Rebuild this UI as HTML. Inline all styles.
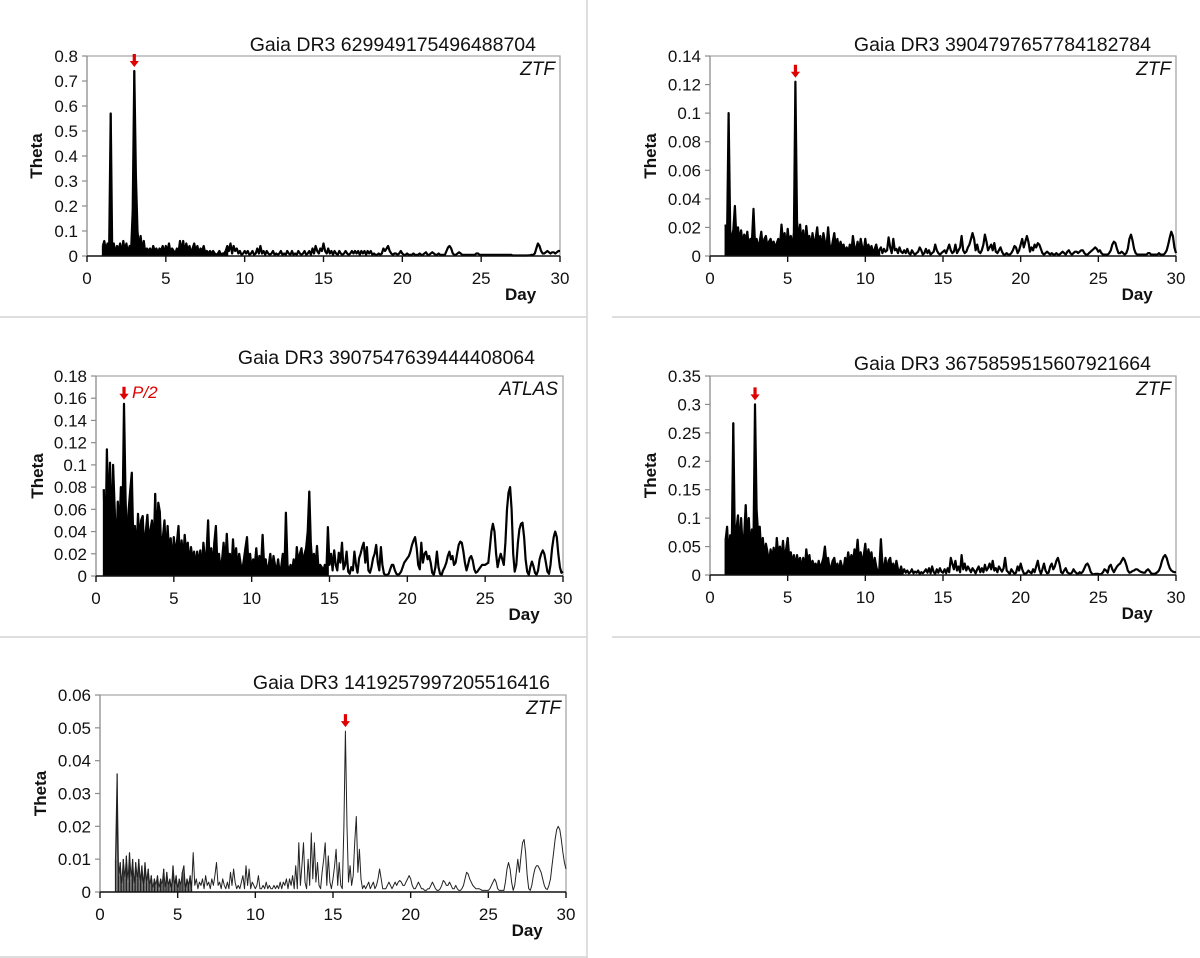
<!DOCTYPE html>
<html><head><meta charset="utf-8">
<style>
html,body{margin:0;padding:0;background:#fff;}
body{width:1200px;height:958px;overflow:hidden;position:relative;}
svg{position:absolute;left:0;top:0;font-family:"Liberation Sans",sans-serif;}
</style></head>
<body>
<svg id="fig" width="1200" height="958" viewBox="0 0 1200 958">
  <g stroke="#d4d4d4" stroke-width="1.5">
    <line x1="587" y1="0" x2="587" y2="958"/>
    <line x1="0" y1="317" x2="587" y2="317"/>
    <line x1="0" y1="637" x2="587" y2="637"/>
    <line x1="0" y1="957" x2="587" y2="957"/>
    <line x1="612" y1="317" x2="1200" y2="317"/>
    <line x1="612" y1="637" x2="1200" y2="637"/>
  </g>
</svg>
<script>
// ---------- data ----------
const xTicks = [0,5,10,15,20,25,30];
const p1Start = 1.0;
const p1Theta = [
0.04,0.06,0.02,0.05,0.01,0.57,0.02,0.05,0.01,0.04,
0.02,0.05,0.01,0.06,0.02,0.05,0.01,0.04,0.02,0.18,
0.74,0.32,0.10,0.03,0.08,0.02,0.06,0.01,0.03,0.02,
0.03,0.01,0.04,0.02,0.03,0.01,0.03,0.02,0.04,0.01,
0.04,0.02,0.05,0.01,0.03,0.02,0.01,0.03,0.01,0.06,
0.02,0.06,0.01,0.05,0.02,0.04,0.01,0.03,0.05,0.02,
0.04,0.01,0.03,0.02,0.04,0.01,0.02,0.01,0.02,0.01,
0.02,0.01,0.005,0.01,0.02,0.005,0.01,0.01,0.02,0.04,
0.02,0.05,0.01,0.04,0.02,0.03,0.01,0.02,0.005,0.01,
0.02,0.01,0.02,0.005,0.01,0.02,0.005,0.01,0.03,0.01,
0.04,0.01,0.02,0.005,0.02,0.01,0.005,0.01,0.02,0.005,
0.01,0.005,0.01,0.02,0.005,0.01,0.005,0.02,0.01,0.005,
0.02,0.005,0.01,0.005,0.02,0.01,0.005,0.01,0.02,0.005,
0.01,0.02,0.005,0.03,0.01,0.04,0.02,0.01,0.03,0.02,
0.05,0.02,0.01,0.03,0.01,0.02,0.005,0.02,0.01,0.005,
0.02,0.01,0.005,0.01,0.02,0.01,0.005,0.01,0.02,0.01,
0.02,0.01,0.02,0.005,0.02,0.01,0.02,0.005,0.02,0.01,
0.02,0.005,0.01,0.005,0.005,0.01,0.005,0.01,0.03,0.02,
0.03,0.04,0.02,0.01,0.005,0.01,0.01,0.005,0.01,0.02,
0.01,0.005,0.005,0.01,0.005,0.005,0.005,0.01,0.005,0.005,
0.005,0.01,0.005,0.005,0.01,0.015,0.005,0.005,0.01,0.015,
0.01,0.005,0.005,0.01,0.005,0.005,0.005,0.005,0.02,0.035,
0.04,0.03,0.01,0.005,0.005,0.01,0.015,0.01,0.005,0.005,
0.005,0.005,0.005,0.005,0.005,0.005,0.005,0.01,0.01,0.005,
0.005,0.005,0.005,0.005,0.005,0.005,0.005,0.005,0.005,0.005,
0.005,0.005,0.005,0.005,0.005,0.005,0.005,0.005,0.005,0.005,
0.002,0.002,0.002,0.002,0.002,0.002,0.002,0.002,0.002,0.002,
0.003,0.003,0.005,0.005,0.01,0.03,0.05,0.04,0.02,0.01,
0.01,0.015,0.02,0.015,0.01,0.015,0.015,0.01,0.015,0.02,
0.02];
const p1YTicks = [0,0.1,0.2,0.3,0.4,0.5,0.6,0.7,0.8];
const p1YLabels = ["0","0.1","0.2","0.3","0.4","0.5","0.6","0.7","0.8"];

const p2Start = 1.0;
const p2Theta = [
0.022,0.015,0.10,0.018,0.01,0.018,0.035,0.012,0.02,0.01,
0.018,0.008,0.015,0.01,0.017,0.006,0.012,0.01,0.033,0.008,
0.012,0.006,0.01,0.017,0.005,0.012,0.014,0.006,0.01,0.012,
0.008,0.01,0.005,0.009,0.012,0.006,0.022,0.01,0.016,0.005,
0.019,0.008,0.014,0.006,0.016,0.122,0.025,0.01,0.022,0.008,
0.018,0.006,0.021,0.01,0.014,0.005,0.016,0.008,0.012,0.02,
0.008,0.014,0.005,0.016,0.01,0.006,0.02,0.008,0.004,0.01,
0.016,0.006,0.012,0.004,0.01,0.006,0.008,0.003,0.006,0.002,
0.008,0.003,0.014,0.006,0.004,0.01,0.003,0.012,0.006,0.004,
0.012,0.003,0.008,0.004,0.007,0.002,0.005,0.008,0.003,0.004,
0.006,0.002,0.005,0.003,0.004,0.013,0.006,0.002,0.012,0.004,
0.005,0.002,0.006,0.003,0.002,0.004,0.002,0.005,0.002,0.001,
0.004,0.002,0.001,0.002,0.003,0.006,0.004,0.001,0.002,0.005,
0.002,0.004,0.001,0.002,0.003,0.008,0.004,0.002,0.001,0.002,
0.003,0.004,0.002,0.005,0.008,0.004,0.002,0.003,0.008,0.002,
0.004,0.006,0.014,0.004,0.002,0.003,0.006,0.008,0.012,0.016,
0.012,0.004,0.008,0.003,0.002,0.004,0.008,0.015,0.01,0.004,
0.006,0.008,0.004,0.009,0.003,0.002,0.004,0.006,0.003,0.001,
0.001,0.002,0.001,0.001,0.002,0.004,0.007,0.006,0.002,0.004,
0.008,0.012,0.006,0.01,0.014,0.01,0.003,0.006,0.004,0.008,
0.006,0.009,0.008,0.005,0.002,0.001,0.002,0.003,0.002,0.001,
0.002,0.001,0.001,0.002,0.001,0.001,0.002,0.003,0.002,0.001,
0.003,0.004,0.002,0.001,0.002,0.003,0.003,0.002,0.003,0.004,
0.004,0.002,0.001,0.001,0.002,0.003,0.004,0.005,0.006,0.005,
0.003,0.004,0.002,0.001,0.001,0.001,0.001,0.002,0.004,0.008,
0.01,0.009,0.005,0.002,0.002,0.003,0.002,0.001,0.002,0.005,
0.012,0.015,0.011,0.005,0.002,0.001,0.001,0.001,0.001,0.001,
0.001,0.001,0.002,0.002,0.001,0.001,0.001,0.001,0.001,0.002,
0.001,0.001,0.001,0.002,0.004,0.008,0.013,0.017,0.014,0.006,
0.002];
const p2YTicks = [0,0.02,0.04,0.06,0.08,0.1,0.12,0.14];
const p2YLabels = ["0","0.02","0.04","0.06","0.08","0.1","0.12","0.14"];

const p3Start = 0.5;
const p3Theta = [
0.078,0.02,0.114,0.05,0.102,0.03,0.1,0.06,0.02,0.067,
0.04,0.08,0.05,0.155,0.068,0.03,0.06,0.077,0.093,0.025,
0.045,0.02,0.056,0.03,0.05,0.054,0.02,0.04,0.055,0.03,
0.042,0.05,0.02,0.074,0.03,0.066,0.058,0.02,0.035,0.05,
0.015,0.045,0.02,0.034,0.01,0.035,0.02,0.03,0.045,0.01,
0.032,0.015,0.037,0.02,0.03,0.01,0.026,0.015,0.022,0.008,
0.022,0.01,0.023,0.005,0.03,0.015,0.02,0.05,0.01,0.025,
0.008,0.03,0.045,0.01,0.02,0.005,0.015,0.03,0.01,0.038,
0.012,0.02,0.005,0.033,0.01,0.025,0.006,0.02,0.01,0.005,
0.015,0.025,0.035,0.008,0.02,0.005,0.015,0.01,0.025,0.005,
0.018,0.008,0.037,0.01,0.015,0.003,0.01,0.02,0.005,0.018,
0.01,0.004,0.015,0.003,0.008,0.02,0.004,0.057,0.01,0.004,
0.01,0.005,0.015,0.003,0.026,0.01,0.02,0.025,0.01,0.02,
0.025,0.04,0.076,0.03,0.01,0.02,0.008,0.027,0.005,0.01,
0.008,0.004,0.01,0.005,0.044,0.01,0.02,0.005,0.023,0.01,
0.005,0.021,0.012,0.03,0.006,0.01,0.022,0.004,0.002,0.008,
0.005,0.022,0.01,0.003,0.016,0.02,0.026,0.03,0.012,0.026,
0.005,0.003,0.008,0.016,0.02,0.028,0.012,0.005,0.026,0.01,
0.002,0.001,0.001,0.002,0.006,0.01,0.01,0.005,0.002,0.001,
0.002,0.004,0.008,0.012,0.014,0.016,0.018,0.022,0.028,0.032,
0.035,0.025,0.01,0.006,0.03,0.012,0.02,0.022,0.015,0.018,
0.012,0.003,0.001,0.008,0.022,0.008,0.002,0.001,0.005,0.008,
0.012,0.018,0.022,0.015,0.018,0.01,0.012,0.02,0.028,0.031,
0.03,0.022,0.012,0.005,0.01,0.016,0.018,0.014,0.006,0.003,
0.004,0.006,0.008,0.01,0.01,0.01,0.011,0.012,0.025,0.04,
0.047,0.04,0.02,0.008,0.015,0.02,0.015,0.01,0.03,0.06,
0.075,0.08,0.06,0.02,0.004,0.01,0.03,0.042,0.047,0.048,
0.035,0.015,0.004,0.001,0.008,0.013,0.009,0.003,0.001,0.005,
0.015,0.02,0.023,0.02,0.012,0.004,0.002,0.01,0.025,0.035,
0.04,0.035,0.02,0.008,0.003,0.004];
const p3YTicks = [0,0.02,0.04,0.06,0.08,0.1,0.12,0.14,0.16,0.18];
const p3YLabels = ["0","0.02","0.04","0.06","0.08","0.1","0.12","0.14","0.16","0.18"];

const p4Start = 1.0;
const p4Theta = [
0.06,0.085,0.03,0.07,0.04,0.267,0.05,0.08,0.105,0.04,
0.1,0.05,0.07,0.123,0.06,0.1,0.04,0.08,0.055,0.3,
0.115,0.07,0.085,0.04,0.065,0.03,0.055,0.04,0.02,0.045,
0.03,0.048,0.02,0.065,0.035,0.05,0.03,0.06,0.025,0.045,
0.065,0.03,0.04,0.02,0.035,0.015,0.035,0.02,0.03,0.01,
0.03,0.01,0.045,0.02,0.035,0.01,0.025,0.015,0.02,0.01,
0.025,0.01,0.02,0.03,0.05,0.02,0.03,0.01,0.015,0.025,
0.03,0.01,0.02,0.005,0.025,0.015,0.01,0.03,0.02,0.04,
0.02,0.035,0.02,0.045,0.03,0.062,0.025,0.04,0.02,0.035,
0.055,0.02,0.045,0.03,0.04,0.01,0.03,0.015,0.005,0.01,
0.063,0.02,0.01,0.03,0.005,0.025,0.03,0.01,0.02,0.005,
0.025,0.01,0.005,0.015,0.003,0.01,0.004,0.008,0.003,0.005,
0.01,0.003,0.006,0.004,0.008,0.002,0.005,0.003,0.006,0.01,
0.004,0.012,0.003,0.015,0.005,0.002,0.01,0.004,0.012,0.006,
0.004,0.01,0.003,0.012,0.005,0.03,0.02,0.01,0.025,0.008,
0.015,0.005,0.035,0.01,0.02,0.008,0.015,0.01,0.005,0.012,
0.008,0.003,0.01,0.015,0.005,0.012,0.005,0.018,0.008,0.012,
0.02,0.01,0.025,0.008,0.012,0.005,0.015,0.01,0.006,0.012,
0.03,0.008,0.005,0.002,0.01,0.006,0.002,0.004,0.015,0.008,
0.02,0.01,0.003,0.002,0.004,0.008,0.005,0.003,0.01,0.005,
0.015,0.025,0.01,0.002,0.01,0.02,0.008,0.003,0.004,0.015,
0.02,0.01,0.015,0.025,0.03,0.02,0.005,0.003,0.008,0.012,
0.005,0.003,0.002,0.004,0.01,0.006,0.003,0.002,0.005,0.003,
0.006,0.012,0.018,0.02,0.015,0.006,0.002,0.001,0.002,0.002,
0.002,0.001,0.002,0.005,0.01,0.008,0.004,0.015,0.018,0.01,
0.005,0.01,0.015,0.018,0.02,0.025,0.03,0.026,0.018,0.008,
0.004,0.005,0.007,0.008,0.01,0.01,0.008,0.006,0.005,0.004,
0.004,0.008,0.01,0.007,0.003,0.002,0.002,0.003,0.005,0.008,
0.015,0.025,0.032,0.035,0.03,0.02,0.012,0.008,0.006,0.005,
0.005];
const p4YTicks = [0,0.05,0.1,0.15,0.2,0.25,0.3,0.35];
const p4YLabels = ["0","0.05","0.1","0.15","0.2","0.25","0.3","0.35"];

const p5Start = 1.0;
const p5Theta = [
0.01,0.036,0.005,0.009,0.002,0.01,0.004,0.011,0.003,0.012,
0.004,0.01,0.002,0.009,0.004,0.01,0.003,0.008,0.002,0.009,
0.003,0.007,0.002,0.005,0.001,0.004,0.002,0.005,0.001,0.004,
0.002,0.007,0.001,0.006,0.002,0.004,0.001,0.008,0.002,0.005,
0.001,0.004,0.002,0.006,0.008,0.001,0.004,0.002,0.005,0.001,
0.012,0.002,0.004,0.001,0.003,0.002,0.004,0.001,0.005,0.002,
0.003,0.001,0.004,0.002,0.005,0.009,0.002,0.003,0.001,0.004,
0.002,0.001,0.003,0.001,0.006,0.002,0.007,0.003,0.001,0.002,
0.001,0.003,0.005,0.001,0.008,0.002,0.007,0.001,0.003,0.002,
0.001,0.002,0.005,0.001,0.001,0.002,0.001,0.003,0.001,0.002,
0.001,0.001,0.002,0.001,0.002,0.001,0.003,0.001,0.003,0.002,
0.004,0.001,0.004,0.002,0.005,0.001,0.008,0.001,0.015,0.002,
0.008,0.015,0.003,0.001,0.01,0.002,0.018,0.004,0.015,0.003,
0.009,0.002,0.001,0.006,0.01,0.015,0.002,0.011,0.003,0.001,
0.004,0.008,0.013,0.002,0.009,0.002,0.001,0.02,0.049,0.02,
0.003,0.008,0.002,0.005,0.015,0.023,0.006,0.013,0.004,0.001,
0.002,0.001,0.002,0.003,0.001,0.002,0.003,0.001,0.002,0.004,
0.007,0.004,0.001,0.001,0.001,0.002,0.003,0.002,0.001,0.002,
0.003,0.002,0.003,0.0035,0.003,0.002,0.002,0.003,0.004,0.005,
0.004,0.002,0.001,0.001,0.002,0.003,0.002,0.001,0.001,0.0005,
0.0005,0.001,0.001,0.002,0.003,0.002,0.001,0.0005,0.0005,0.001,
0.002,0.0035,0.003,0.002,0.002,0.003,0.002,0.001,0.001,0.002,
0.001,0.0005,0.0005,0.001,0.002,0.004,0.006,0.0055,0.004,0.003,
0.002,0.0015,0.001,0.001,0.001,0.0008,0.0005,0.0005,0.0005,0.0005,
0.0005,0.001,0.002,0.003,0.004,0.003,0.001,0.0005,0.0005,0.0005,
0.0005,0.003,0.007,0.009,0.007,0.003,0.0005,0.002,0.006,0.01,
0.006,0.011,0.015,0.016,0.012,0.005,0.001,0.0005,0.002,0.005,
0.007,0.008,0.008,0.007,0.006,0.004,0.002,0.001,0.0008,0.002,
0.004,0.008,0.012,0.016,0.019,0.02,0.019,0.016,0.012,0.009,
0.007];
const p5YTicks = [0,0.01,0.02,0.03,0.04,0.05,0.06];
const p5YLabels = ["0","0.01","0.02","0.03","0.04","0.05","0.06"];

const titles = ["Gaia DR3 629949175496488704","Gaia DR3 3904797657784182784","Gaia DR3 3907547639444408064","Gaia DR3 3675859515607921664","Gaia DR3 1419257997205516416"];
const surveys = ["ZTF","ZTF","ATLAS","ZTF","ZTF"];
const markedPeriods = [3.0, 5.5, 1.8, 2.9, 15.8];
const markedTheta = [0.74, 0.122, 0.155, 0.3, 0.049];
// day below which the periodogram is a dense (aliased) forest drawn filled
const denseUntil = [9, 11, 15, 12.5, 6];

// ---------- layout ----------
const NS = "http://www.w3.org/2000/svg";
const svg = document.getElementById('fig');
function mk(tag, attrs, parent){
  const e = document.createElementNS(NS, tag);
  for (const k in attrs) e.setAttribute(k, attrs[k]);
  (parent||svg).appendChild(e);
  return e;
}
const panels = [
 {x0:87,x1:560,yT:56,yB:256,ymax:0.8,start:p1Start,vals:p1Theta,yt:p1YTicks,yl:p1YLabels,thetaX:36,titleR:536,titleY:51,lw:2.2,sw:1.9,col:"#000"},
 {x0:710,x1:1176,yT:56,yB:256,ymax:0.14,start:p2Start,vals:p2Theta,yt:p2YTicks,yl:p2YLabels,thetaX:650,titleR:1151,titleY:51,lw:2.2,sw:1.9,col:"#000"},
 {x0:96,x1:563,yT:376,yB:576,ymax:0.18,start:p3Start,vals:p3Theta,yt:p3YTicks,yl:p3YLabels,thetaX:37,titleR:535,titleY:364,lw:2.2,sw:1.9,col:"#000"},
 {x0:710,x1:1176,yT:376,yB:575,ymax:0.35,start:p4Start,vals:p4Theta,yt:p4YTicks,yl:p4YLabels,thetaX:650,titleR:1151,titleY:370,lw:2.2,sw:1.9,col:"#000"},
 {x0:100,x1:566,yT:695,yB:892,ymax:0.06,start:p5Start,vals:p5Theta,yt:p5YTicks,yl:p5YLabels,thetaX:40,titleR:550,titleY:689,lw:1,sw:1.2,col:"#222"}
];

panels.forEach((p, i) => {
  const g = mk('g', {});
  
  
  const xs = d => p.x0 + (d/30)*(p.x1-p.x0);
  const ys = v => p.yB - (v/p.ymax)*(p.yB-p.yT);

  const frame = mk('path', {d:`M${p.x0},${p.yT}H${p.x1}V${p.yB}`, fill:'none', stroke:'#a6a6a6', 'stroke-width':1.3}, g);
  
  
  const yax = mk('line', {x1:p.x0,y1:p.yT,x2:p.x0,y2:p.yB, stroke:'#8c8c8c','stroke-width':1.3}, g);
  
  

  p.yt.forEach((v, k) => {
    const y = ys(v);
    mk('line', {x1:p.x0-5,y1:y,x2:p.x0,y2:y,stroke:'#8c8c8c','stroke-width':1.2}, g);
    const t = mk('text', {x:p.x0-9,y:y+6,'text-anchor':'end','font-size':17,fill:'#111'}, g);
    t.textContent = p.yl[k];
    
    
  });

  // dense forest fill (stems)
  let sd = '';
  p.vals.forEach((v, k) => {
    const day = p.start + k*0.1;
    if (day < denseUntil[i]) {
      sd += 'M' + xs(day).toFixed(1) + ',' + p.yB + 'V' + ys(v).toFixed(1);
    }
  });
  const stems = mk('path', {d:sd, fill:'none', stroke:p.col, 'stroke-width':p.sw}, g);
  
  

  let d = '';
  p.vals.forEach((v, k) => {
    const day = p.start + k*0.1;
    d += (k ? 'L' : 'M') + xs(day).toFixed(1) + ',' + ys(v).toFixed(1);
  });
  const line = mk('path', {d:d, fill:'none', stroke:p.col, 'stroke-width':p.lw, 'stroke-linejoin':'round'}, g);
  
  

  const xax = mk('line', {x1:p.x0,y1:p.yB,x2:p.x1,y2:p.yB, stroke:'#111','stroke-width':1.6}, g);
  
  
  xTicks.forEach(v => {
    const x = xs(v);
    mk('line', {x1:x,y1:p.yB,x2:x,y2:p.yB+6,stroke:'#111','stroke-width':1.4}, g);
    const t = mk('text', {x:x,y:p.yB+28,'text-anchor':'middle','font-size':17,fill:'#111'}, g);
    t.textContent = v;
    
    
  });

  const day = mk('text', {x:xs(27.5),y:p.yB+44,'text-anchor':'middle','font-size':17,'font-weight':'bold',fill:'#111'}, g);
  day.textContent = 'Day';
  
  
  const cy = (p.yT+p.yB)/2;
  const th = mk('text', {x:p.thetaX,y:cy,'text-anchor':'middle','font-size':17,'font-weight':'bold',fill:'#111',transform:`rotate(-90 ${p.thetaX} ${cy})`,dy:6}, g);
  th.textContent = 'Theta';
  
  

  const tt = mk('text', {x:p.titleR,y:p.titleY,'text-anchor':'end','font-size':19.5,fill:'#111'}, g);
  tt.textContent = titles[i];
  
  
  const sv = mk('text', {x:p.x1-5,y:p.yT+19,'text-anchor':'end','font-size':19,'font-style':'italic',fill:'#111'}, g);
  sv.textContent = surveys[i];
  
  

  const ax = xs(markedPeriods[i]);
  const ab = ys(markedTheta[i]) - 4;
  const arrow = mk('path', {d:`M${ax-1.6},${ab-13}h3.2v7h3l-4.6,6l-4.6,-6h3z`, fill:'#e00000'}, g);
  
  
  if (i === 2) {
    const pl = mk('text', {x:ax+8,y:ab-2,'font-size':17,'font-style':'italic',fill:'#e00000'}, g);
    pl.textContent = 'P/2';
    
    
  }
});
</script>
</body></html>
